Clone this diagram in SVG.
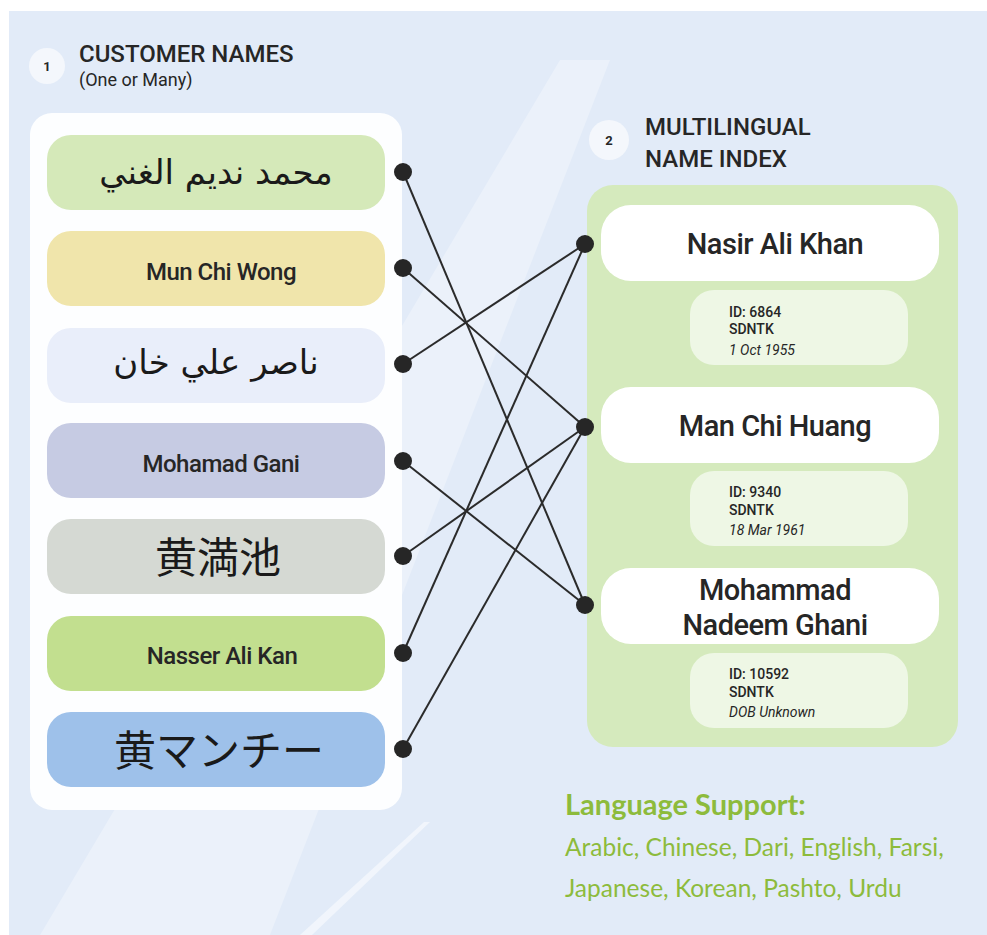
<svg xmlns="http://www.w3.org/2000/svg" width="987" height="935" viewBox="0 0 987 935">
<style>
.t{font-family:Roboto,Lato,"Liberation Sans",sans-serif;fill:#262626}
.h{font-size:24px;font-weight:500}
.nm{font-size:24px;font-weight:500;text-anchor:middle;letter-spacing:-0.5px}
.rn{font-size:29px;font-weight:500;text-anchor:middle;letter-spacing:-0.5px}
.ar{font-family:"DejaVu Sans","Noto Sans",sans-serif;font-size:34px;text-anchor:middle;fill:#1a1a1a}
.cj{font-family:"Noto Sans CJK JP","Noto Sans CJK SC",sans-serif;font-size:42px;text-anchor:middle;fill:#1a1a1a}
.inf{font-size:14px;font-weight:500}
.it{font-size:14px;font-style:italic}
.ln{stroke:#2b2b2b;stroke-width:2;fill:none}
.dot{fill:#262626}
.g{font-family:Lato,"Open Sans","Liberation Sans",sans-serif;fill:#8dbb3c}
</style>
<rect x="0" y="0" width="987" height="935" fill="#ffffff"/>
<rect x="9" y="11" width="978" height="924" fill="#e2ebf8"/>
<polygon points="40,935 270,935 610,60 560,60" fill="#ffffff" opacity="0.3"/>
<polygon points="300,935 312,935 430,822 424,822" fill="#ffffff" opacity="0.5"/>

<g id="title1">
<circle cx="47" cy="66" r="18" fill="#f4f7fc"/>
<text class="t" x="47" y="71" font-size="13" font-weight="bold" text-anchor="middle">1</text>
<text class="t h" x="79" y="62">CUSTOMER NAMES</text>
<text class="t" x="79" y="86" font-size="18">(One or Many)</text>
</g>

<g id="leftPanel">
<rect x="30" y="113" width="372" height="697" rx="22" fill="#fdfeff"/>
</g>

<g id="c1"><rect x="47" y="135" width="338" height="75" rx="24" fill="#d5e9b9"/><text class="ar" x="216" y="184">محمد نديم الغني</text></g>
<g id="c2"><rect x="47" y="231" width="338" height="75" rx="24" fill="#f0e5ab"/><text class="t nm" x="221" y="280">Mun Chi Wong</text></g>
<g id="c3"><rect x="47" y="328" width="338" height="75" rx="24" fill="#e9eefa"/><text class="ar" x="216" y="374">ناصر علي خان</text></g>
<g id="c4"><rect x="47" y="423" width="338" height="75" rx="24" fill="#c6cbe3"/><text class="t nm" x="221" y="472">Mohamad Gani</text></g>
<g id="c5"><rect x="47" y="519" width="338" height="75" rx="24" fill="#d5d9d3"/><text class="cj" x="218" y="573">黄満池</text></g>
<g id="c6"><rect x="47" y="616" width="338" height="75" rx="24" fill="#c2df8f"/><text class="t nm" x="222" y="664">Nasser Ali Kan</text></g>
<g id="c7"><rect x="47" y="712" width="338" height="75" rx="24" fill="#9ec1ea"/><text class="cj" x="219" y="766">黄マンチー</text></g>

<g id="title2">
<circle cx="609" cy="140" r="20" fill="#f4f7fc"/>
<text class="t" x="609" y="145" font-size="13" font-weight="bold" text-anchor="middle">2</text>
<text class="t h" x="645" y="135">MULTILINGUAL</text>
<text class="t h" x="645" y="167">NAME INDEX</text>
</g>

<g id="rightPanel">
<rect x="587" y="185" width="371" height="562" rx="26" fill="#d5eabd"/>
</g>

<g id="r1">
<rect x="601" y="205" width="338" height="76" rx="30" fill="#ffffff"/>
<text class="t rn" x="775" y="254">Nasir Ali Khan</text>
<rect x="690" y="290" width="218" height="75" rx="24" fill="#eef7e5"/>
<text class="t inf" x="729" y="317">ID: 6864</text>
<text class="t inf" x="729" y="334">SDNTK</text>
<text class="t it" x="729" y="355">1 Oct 1955</text>
</g>
<g id="r2">
<rect x="601" y="387" width="338" height="76" rx="30" fill="#ffffff"/>
<text class="t rn" x="775" y="436">Man Chi Huang</text>
<rect x="690" y="471" width="218" height="75" rx="24" fill="#eef7e5"/>
<text class="t inf" x="729" y="497">ID: 9340</text>
<text class="t inf" x="729" y="515">SDNTK</text>
<text class="t it" x="729" y="535">18 Mar 1961</text>
</g>
<g id="r3">
<rect x="601" y="568" width="338" height="76" rx="30" fill="#ffffff"/>
<text class="t rn" x="775" y="600">Mohammad</text>
<text class="t rn" x="775" y="635">Nadeem Ghani</text>
<rect x="690" y="653" width="218" height="75" rx="24" fill="#eef7e5"/>
<text class="t inf" x="729" y="679">ID: 10592</text>
<text class="t inf" x="729" y="697">SDNTK</text>
<text class="t it" x="729" y="717">DOB Unknown</text>
</g>

<g id="connectors">
<line class="ln" x1="403" y1="172" x2="585" y2="605"/>
<line class="ln" x1="403" y1="268" x2="585" y2="427"/>
<line class="ln" x1="403" y1="364" x2="585" y2="244"/>
<line class="ln" x1="403" y1="461" x2="585" y2="605"/>
<line class="ln" x1="403" y1="556" x2="585" y2="427"/>
<line class="ln" x1="403" y1="653" x2="585" y2="244"/>
<line class="ln" x1="403" y1="749" x2="585" y2="427"/>
<circle class="dot" cx="403" cy="172" r="9"/>
<circle class="dot" cx="403" cy="268" r="9"/>
<circle class="dot" cx="403" cy="364" r="9"/>
<circle class="dot" cx="403" cy="461" r="9"/>
<circle class="dot" cx="403" cy="556" r="9"/>
<circle class="dot" cx="403" cy="653" r="9"/>
<circle class="dot" cx="403" cy="749" r="9"/>
<circle class="dot" cx="585" cy="244" r="9"/>
<circle class="dot" cx="585" cy="427" r="9"/>
<circle class="dot" cx="585" cy="605" r="9"/>
</g>

<g id="languages">
<text class="g" x="565" y="815" font-size="29" font-weight="bold">Language Support:</text>
<text class="g" x="565" y="856" font-size="24.5">Arabic, Chinese, Dari, English, Farsi,</text>
<text class="g" x="565" y="897" font-size="24.5">Japanese, Korean, Pashto, Urdu</text>
</g>
</svg>
